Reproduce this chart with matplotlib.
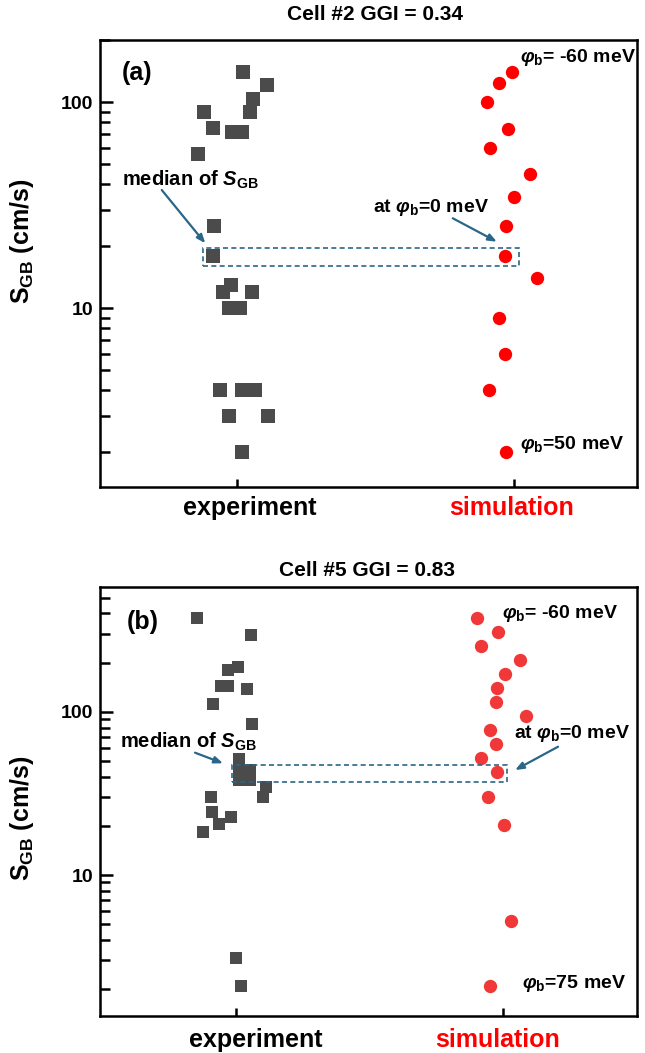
import matplotlib
matplotlib.use('Agg')
import matplotlib.pyplot as plt
from matplotlib.patches import Rectangle
from matplotlib.ticker import LogLocator, NullFormatter, FixedLocator, FixedFormatter

plt.rcParams['font.family'] = ['Liberation Sans', 'DejaVu Sans']
plt.rcParams['font.weight'] = 'bold'
plt.rcParams['mathtext.fontset'] = 'custom'
plt.rcParams['mathtext.rm'] = 'Liberation Sans:bold'
plt.rcParams['mathtext.it'] = 'Liberation Sans:bold:italic'
plt.rcParams['mathtext.bf'] = 'Liberation Sans:bold'

# ---------------- data ----------------
categories = ['experiment', 'simulation']
category_colors = ['black', 'red']
titles = ['Cell #2 GGI = 0.34', 'Cell #5 GGI = 0.83']
panel_tags = ['(a)', '(b)']
yticks = [10, 100]
ytick_labels = ['10', '100']

# panel (a)
a_exp_S = [140, 121, 104, 90, 90, 75, 71.5, 71.5, 56, 25, 17.9, 13, 12, 12,
           10, 10, 4, 4, 4, 3, 3, 2]
a_exp_x = [1.023, 1.110, 1.059, 1.048, 0.882, 0.915, 0.983, 1.019, 0.861, 0.918,
           0.915, 0.980, 0.951, 1.056, 0.973, 1.012, 0.940, 1.019, 1.066, 0.973,
           1.113, 1.019]
a_sim_S = [140, 124, 100, 74, 59.7, 44.8, 34.8, 25, 18, 14, 9, 6, 4, 2]
a_sim_x = [1.993, 1.947, 1.903, 1.979, 1.915, 2.059, 2.001, 1.971, 1.969, 2.083,
           1.947, 1.969, 1.911, 1.971]
a_median_range = [16.0, 19.6]
a_phi_labels = ['-60', '50']

# panel (b)
b_exp_S = [373, 295, 189, 180, 144, 144, 138, 111, 84.6, 51, 44, 44, 38.2, 38.2,
           34.4, 30.2, 30.2, 24.4, 22.5, 20.5, 18.4, 3.1, 2.09]
b_exp_x = [0.853, 1.054, 1.004, 0.967, 0.968, 0.941, 1.039, 0.911, 1.057, 1.010,
           1.010, 1.050, 1.010, 1.050, 1.110, 1.100, 0.903, 0.909, 0.978, 0.935,
           0.875, 1.000, 1.017]
b_sim_S = [377, 309, 252, 207, 170, 140, 115, 94.5, 77.3, 63.4, 51.9, 42.5, 30.2,
           20.2, 5.2, 2.09]
b_sim_x = [1.904, 1.982, 1.919, 2.063, 2.007, 1.976, 1.973, 2.088, 1.950, 1.973,
           1.917, 1.976, 1.944, 2.003, 2.029, 1.950]
b_median_range = [37.3, 47.2]
b_phi_labels = ['-60', '75']

# ---------------- figure ----------------
W, H = 645, 1053
fig = plt.figure(figsize=(W / 100, H / 100), dpi=100)

def px_axes(left, top, right, bottom):
    return fig.add_axes([left / W, 1 - bottom / H, (right - left) / W, (bottom - top) / H])

ax_a = px_axes(100, 40, 637, 487)
ax_b = px_axes(100, 587, 637, 1016)

box_col = '#2a6688'
sq_col = '#4b4b4b'

def style(ax, ylim, xlim, label_y):
    ax.set_yscale('log')
    ax.set_ylim(*ylim)
    ax.set_xlim(*xlim)
    for s in ax.spines.values():
        s.set_linewidth(1.8)
    ax.yaxis.set_major_locator(FixedLocator(yticks))
    ax.yaxis.set_major_formatter(FixedFormatter(ytick_labels))
    ax.yaxis.set_minor_locator(LogLocator(base=10, subs=range(2, 10)))
    ax.yaxis.set_minor_formatter(NullFormatter())
    ax.tick_params(axis='y', which='major', direction='in', length=9, width=1.8,
                   labelsize=14, right=False, pad=5)
    ax.tick_params(axis='y', which='minor', direction='in', length=7, width=1.8,
                   right=False)
    ax.set_xticks([1, 2])
    ax.tick_params(axis='x', which='major', direction='in', length=6, width=1.8,
                   labelbottom=False, top=False)
    ax.set_ylabel(r'$\mathrm{S}_{\mathrm{GB}}$ (cm/s)', fontsize=18, fontweight='bold')
    ax.yaxis.set_label_coords(-0.12, label_y)

def cat_labels(ax, xs, dy):
    for x, lab, c in zip(xs, categories, category_colors):
        ax.annotate(lab, xy=(x, 0), xycoords=('data', 'axes fraction'),
                    xytext=(0, -dy), textcoords='offset pixels',
                    ha='center', va='center', fontsize=18, fontweight='bold', color=c)

def arrow(ax, start, end):
    ax.annotate('', xy=end, xytext=start, xycoords='axes fraction',
                textcoords='axes fraction',
                arrowprops=dict(arrowstyle='-|>,head_length=0.5,head_width=0.2',
                                color=box_col, lw=1.6, shrinkA=0, shrinkB=0))

def fy(ax_top, ax_bot, py):
    return (ax_bot - py) / (ax_bot - ax_top)

A_T, A_B = 40, 487
B_T, B_B = 587, 1016

# ---- panel (a) ----
style(ax_a, (1.36, 200), (0.507, 2.445), 0.55)
ax_a.scatter(a_exp_x, a_exp_S, marker='s', s=92, color=sq_col, linewidths=0, zorder=3)
ax_a.scatter(a_sim_x, a_sim_S, marker='o', s=92, color='#ff0000', linewidths=0, zorder=3)
ax_a.add_patch(Rectangle((0.878, a_median_range[0]), 2.0195 - 0.878,
                         a_median_range[1] - a_median_range[0], fill=False,
                         edgecolor=box_col, lw=1.2, ls=(0, (3, 2)), zorder=2))
cat_labels(ax_a, [1.047, 1.993], 21)
fig.text(375 / W, 1 - 15 / H, titles[0], ha='center', va='center', fontsize=15, fontweight='bold')
ax_a.text(0.041, fy(A_T, A_B, 73), panel_tags[0], transform=ax_a.transAxes, ha='left', va='center',
          fontsize=18, fontweight='bold')
ax_a.text(0.782, fy(A_T, A_B, 58), r'$\varphi_{\mathrm{b}}$= ' + a_phi_labels[0] + ' meV',
          transform=ax_a.transAxes, ha='left', va='center', fontsize=14)
ax_a.text(0.782, fy(A_T, A_B, 445), r'$\varphi_{\mathrm{b}}$=' + a_phi_labels[1] + ' meV',
          transform=ax_a.transAxes, ha='left', va='center', fontsize=14)
ax_a.text(0.041, fy(A_T, A_B, 180), r'median of $S_{\mathrm{GB}}$', transform=ax_a.transAxes,
          ha='left', va='center', fontsize=14.5)
ax_a.text(0.508, fy(A_T, A_B, 207), r'at $\varphi_{\mathrm{b}}$=0 meV', transform=ax_a.transAxes,
          ha='left', va='center', fontsize=14)
arrow(ax_a, (0.115, fy(A_T, A_B, 190)), (0.196, fy(A_T, A_B, 243.3)))
arrow(ax_a, (0.657, fy(A_T, A_B, 218.3)), (0.739, fy(A_T, A_B, 241.7)))

# ---- panel (b) ----
style(ax_b, (1.37, 580), (0.488, 2.503), 0.46)
ax_b.scatter(b_exp_x, b_exp_S, marker='s', s=72, color=sq_col, linewidths=0, zorder=3)
ax_b.scatter(b_sim_x, b_sim_S, marker='o', s=92, color='#f03838', linewidths=0, zorder=3)
ax_b.add_patch(Rectangle((0.982, b_median_range[0]), 2.017 - 0.982,
                         b_median_range[1] - b_median_range[0], fill=False,
                         edgecolor=box_col, lw=1.2, ls=(0, (3, 2)), zorder=4))
cat_labels(ax_b, [1.073, 1.980], 24)
fig.text(367 / W, 1 - 571 / H, titles[1], ha='center', va='center', fontsize=15, fontweight='bold')
ax_b.text(0.050, fy(B_T, B_B, 622), panel_tags[1], transform=ax_b.transAxes, ha='left', va='center',
          fontsize=18, fontweight='bold')
ax_b.text(0.748, fy(B_T, B_B, 613), r'$\varphi_{\mathrm{b}}$= ' + b_phi_labels[0] + ' meV',
          transform=ax_b.transAxes, ha='left', va='center', fontsize=14)
ax_b.text(0.785, fy(B_T, B_B, 983), r'$\varphi_{\mathrm{b}}$=' + b_phi_labels[1] + ' meV',
          transform=ax_b.transAxes, ha='left', va='center', fontsize=14)
ax_b.text(0.037, fy(B_T, B_B, 741.7), r'median of $S_{\mathrm{GB}}$', transform=ax_b.transAxes,
          ha='left', va='center', fontsize=14.5)
ax_b.text(0.771, fy(B_T, B_B, 733), r'at $\varphi_{\mathrm{b}}$=0 meV', transform=ax_b.transAxes,
          ha='left', va='center', fontsize=14)
arrow(ax_b, (0.177, fy(B_T, B_B, 752.7)), (0.229, fy(B_T, B_B, 763.3)))
arrow(ax_b, (0.853, fy(B_T, B_B, 746.7)), (0.773, fy(B_T, B_B, 770)))

fig.savefig('out.png', dpi=100)
